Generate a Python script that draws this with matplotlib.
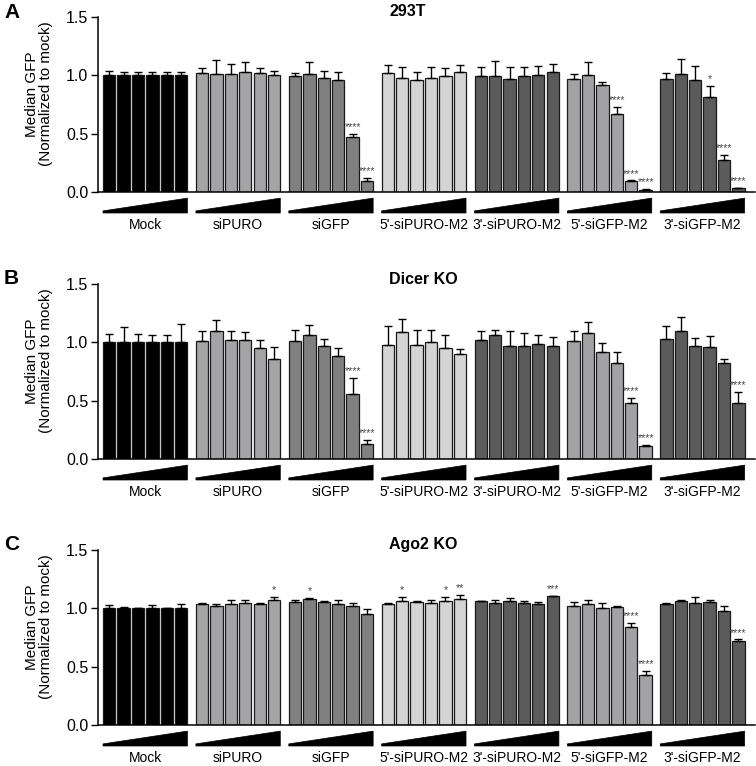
import matplotlib
matplotlib.use('Agg')
import matplotlib.pyplot as plt
from matplotlib.patches import Polygon
import matplotlib.transforms as mtransforms

plt.rcParams['font.family'] = ['Liberation Sans', 'DejaVu Sans']

# ---- data ----
groups = ["Mock", "siPURO", "siGFP", "5'-siPURO-M2", "3'-siPURO-M2", "5'-siGFP-M2", "3'-siGFP-M2"]
group_colors = ['#000000', '#a4a4a7', '#808080', '#d4d4d4', '#5b5b5b', '#a2a2a4', '#5b5b5b']

titles = ['293T', 'Dicer KO', 'Ago2 KO']
letters = ['A', 'B', 'C']

a_mean = [
    [1.00, 1.00, 1.00, 1.00, 1.00, 1.00],
    [1.02, 1.01, 1.01, 1.03, 1.02, 1.00],
    [0.99, 1.01, 0.98, 0.96, 0.47, 0.09],
    [1.02, 0.98, 0.96, 0.98, 0.99, 1.03],
    [0.99, 0.99, 0.97, 0.99, 1.00, 1.03],
    [0.97, 1.00, 0.92, 0.67, 0.09, 0.02],
    [0.97, 1.01, 0.96, 0.81, 0.27, 0.03],
]
a_err = [
    [0.04, 0.025, 0.025, 0.03, 0.03, 0.03],
    [0.04, 0.12, 0.09, 0.08, 0.04, 0.04],
    [0.03, 0.10, 0.06, 0.07, 0.03, 0.03],
    [0.07, 0.09, 0.07, 0.09, 0.07, 0.06],
    [0.08, 0.13, 0.10, 0.08, 0.08, 0.065],
    [0.04, 0.11, 0.026, 0.06, 0.01, 0.003],
    [0.05, 0.13, 0.12, 0.10, 0.05, 0.003],
]
a_stars = [
    ['', '', '', '', '', ''],
    ['', '', '', '', '', ''],
    ['', '', '', '', '****', '****'],
    ['', '', '', '', '', ''],
    ['', '', '', '', '', ''],
    ['', '', '', '****', '****', '****'],
    ['', '', '', '*', '****', '****'],
]

b_mean = [
    [1.00, 1.00, 1.00, 1.00, 1.00, 1.00],
    [1.01, 1.10, 1.02, 1.02, 0.95, 0.86],
    [1.01, 1.06, 0.97, 0.88, 0.56, 0.13],
    [0.98, 1.09, 0.98, 1.00, 0.95, 0.90],
    [1.02, 1.06, 0.97, 0.97, 0.99, 0.97],
    [1.01, 1.08, 0.92, 0.82, 0.48, 0.11],
    [1.03, 1.10, 0.97, 0.96, 0.82, 0.48],
]
b_err = [
    [0.07, 0.13, 0.075, 0.06, 0.06, 0.16],
    [0.09, 0.09, 0.08, 0.07, 0.07, 0.10],
    [0.094, 0.09, 0.055, 0.074, 0.134, 0.034],
    [0.16, 0.11, 0.13, 0.11, 0.11, 0.046],
    [0.08, 0.05, 0.13, 0.106, 0.07, 0.075],
    [0.09, 0.094, 0.077, 0.097, 0.046, 0.014],
    [0.11, 0.114, 0.063, 0.094, 0.034, 0.094],
]
b_stars = [
    ['', '', '', '', '', ''],
    ['', '', '', '', '', ''],
    ['', '', '', '', '****', '****'],
    ['', '', '', '', '', ''],
    ['', '', '', '', '', ''],
    ['', '', '', '', '****', '****'],
    ['', '', '', '', '', '****'],
]

c_mean = [
    [1.00, 1.00, 1.00, 1.00, 1.00, 1.00],
    [1.034, 1.020, 1.034, 1.043, 1.040, 1.075],
    [1.057, 1.078, 1.057, 1.040, 1.023, 0.951],
    [1.040, 1.066, 1.055, 1.043, 1.066, 1.083],
    [1.060, 1.049, 1.063, 1.043, 1.040, 1.103],
    [1.017, 1.034, 1.006, 1.011, 0.842, 0.431],
    [1.040, 1.060, 1.046, 1.052, 0.974, 0.716],
]
c_err = [
    [0.025, 0.01, 0.006, 0.03, 0.003, 0.04],
    [0.01, 0.02, 0.04, 0.03, 0.003, 0.025],
    [0.015, 0.012, 0.008, 0.035, 0.023, 0.045],
    [0.003, 0.034, 0.01, 0.026, 0.034, 0.034],
    [0.006, 0.02, 0.026, 0.017, 0.014, 0.003],
    [0.035, 0.037, 0.043, 0.006, 0.032, 0.034],
    [0.003, 0.015, 0.054, 0.023, 0.045, 0.017],
]
c_stars = [
    ['', '', '', '', '', ''],
    ['', '', '', '', '', '*'],
    ['', '*', '', '', '', ''],
    ['', '*', '', '', '*', '**'],
    ['', '', '', '', '', '***'],
    ['', '', '', '', '****', '****'],
    ['', '', '', '', '', '****'],
]

panels = [(a_mean, a_err, a_stars), (b_mean, b_err, b_stars), (c_mean, c_err, c_stars)]

# ---- layout (figure fractions from 756x766 px) ----
W, H = 756, 766
ax_left, ax_right = 98, 755
zero_px = [192, 459, 725]
span_px = 175
gap = 0.45
n_per = 6

fig = plt.figure(figsize=(W / 100, H / 100), dpi=100)

for p, (means, errs, stars) in enumerate(panels):
    ax = fig.add_axes([ax_left / W, 1 - zero_px[p] / H, (ax_right - ax_left) / W, span_px / H])
    trans = mtransforms.blended_transform_factory(ax.transData, ax.transAxes)
    for g, name in enumerate(groups):
        start = g * (n_per + gap)
        xs = [start + i + 0.5 for i in range(n_per)]
        ax.bar(xs, means[g], width=0.86, color=group_colors[g], edgecolor='#1a1a1a',
               linewidth=0.9, zorder=2)
        ax.errorbar(xs, means[g], yerr=[[0] * n_per, errs[g]], fmt='none', ecolor='black',
                    elinewidth=1.0, capsize=2.6, capthick=1.0, zorder=3)
        for i in range(n_per):
            if stars[g][i]:
                ax.text(xs[i], means[g][i] + errs[g][i] + 0.015, stars[g][i], ha='center',
                        va='bottom', fontsize=7.5, color='#444444')
        # dose wedge
        x0, x1 = start + 0.07, start + n_per - 0.07
        wedge = Polygon([(x0, -0.12), (x1, -0.12), (x1, -0.035), (x0, -0.108)],
                        closed=True, facecolor='black', edgecolor='black', linewidth=0.5,
                        transform=trans, clip_on=False)
        ax.add_patch(wedge)
        ax.text(start + n_per / 2, -0.19, name, transform=trans, ha='center', va='center',
                fontsize=10)

    ax.set_ylim(0, 1.5)
    ax.set_xlim(-0.28, 45.35)
    ax.set_yticks([0, 0.5, 1.0, 1.5])
    ax.set_yticklabels(['0.0', '0.5', '1.0', '1.5'])
    ax.tick_params(axis='y', labelsize=11.5, length=5, width=1, pad=2)
    ax.set_xticks([])
    for side in ['top', 'right']:
        ax.spines[side].set_visible(False)
    ax.spines['left'].set_linewidth(1.1)
    ax.spines['bottom'].set_linewidth(1.1)
    ax.set_ylabel('Median GFP\n(Normalized to mock)', fontsize=11, linespacing=1.0)
    ax.yaxis.set_label_coords(-0.068, 0.56)

    top_px = zero_px[p] - span_px
    fig.text(389 / W, 1 - (top_px - 5) / H, titles[p], ha='left', va='center',
             fontsize=11.5, fontweight='bold')
    fig.text(4 / W, 1 - (top_px - 5) / H, letters[p], ha='left', va='center',
             fontsize=15, fontweight='bold')

fig.savefig('out.png', dpi=100, facecolor='white')
